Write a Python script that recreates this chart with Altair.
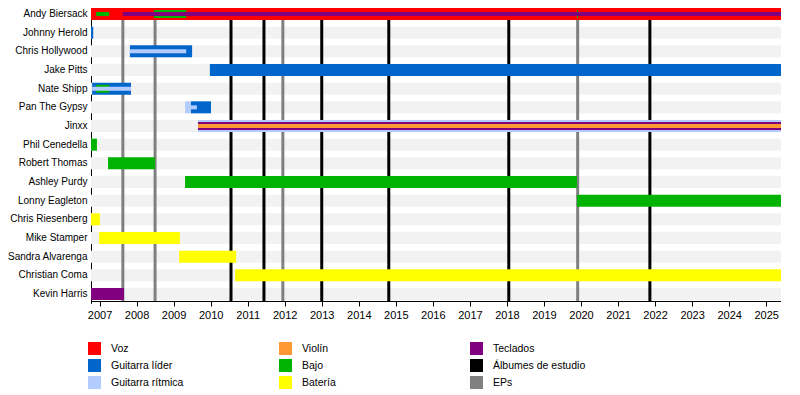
import altair as alt
import pandas as pd

# ---------------- data ----------------
names = ["Andy Biersack", "Johnny Herold", "Chris Hollywood", "Jake Pitts",
         "Nate Shipp", "Pan The Gypsy", "Jinxx", "Phil Cenedella",
         "Robert Thomas", "Ashley Purdy", "Lonny Eagleton", "Chris Riesenberg",
         "Mike Stamper", "Sandra Alvarenga", "Christian Coma", "Kevin Harris"]

period = [2006.77, 2025.40]

bar_member = ["Andy Biersack", "Andy Biersack", "Andy Biersack", "Andy Biersack", "Andy Biersack",
              "Johnny Herold",
              "Chris Hollywood", "Chris Hollywood",
              "Jake Pitts",
              "Nate Shipp", "Nate Shipp", "Nate Shipp",
              "Pan The Gypsy", "Pan The Gypsy", "Pan The Gypsy",
              "Jinxx", "Jinxx", "Jinxx",
              "Phil Cenedella", "Robert Thomas", "Ashley Purdy", "Lonny Eagleton",
              "Chris Riesenberg", "Mike Stamper", "Sandra Alvarenga", "Christian Coma",
              "Kevin Harris"]
bar_role = ["Voz", "Teclados", "Bajo", "Bajo", "Bajo",
            "Guitarra líder",
            "Guitarra líder", "Guitarra rítmica",
            "Guitarra líder",
            "Guitarra líder", "Bajo", "Guitarra rítmica",
            "Guitarra rítmica", "Guitarra líder", "Guitarra rítmica",
            "Guitarra rítmica", "Teclados", "Violín",
            "Bajo", "Bajo", "Bajo", "Bajo",
            "Batería", "Batería", "Batería", "Batería",
            "Teclados"]
bar_layer = ["full", "inner", "inner", "mid", "mid",
             "full",
             "full", "inner",
             "full",
             "full", "mid", "inner",
             "full", "full", "inner",
             "full", "mid", "inner",
             "full", "full", "full", "full",
             "full", "full", "full", "full",
             "full"]
bar_start = [2006.77, 2007.63, 2006.91, 2008.47, 2019.89,
             2006.77,
             2007.82, 2007.82,
             2009.98,
             2006.80, 2006.91, 2006.80,
             2009.31, 2009.47, 2009.47,
             2009.66, 2009.66, 2009.66,
             2006.77, 2007.23, 2009.31, 2019.89,
             2006.77, 2006.99, 2009.15, 2010.66,
             2006.77]
bar_end = [2025.40, 2025.40, 2007.26, 2009.34, 2019.92,
           2006.83,
           2009.50, 2009.34,
           2025.40,
           2007.85, 2007.26, 2007.85,
           2009.47, 2010.01, 2009.63,
           2025.40, 2025.40, 2025.40,
           2006.93, 2008.50, 2019.89, 2025.40,
           2007.01, 2009.17, 2010.69, 2025.40,
           2007.66]

album_years = [2010.55, 2011.44, 2013.00, 2014.81, 2018.05, 2021.86]
ep_years = [2007.63, 2008.50, 2011.95, 2019.91]
year_ticks = list(range(2007, 2026))

legend_labels = ["Voz", "Guitarra líder", "Guitarra rítmica",
                 "Violín", "Bajo", "Batería",
                 "Teclados", "Álbumes de estudio", "EPs"]
legend_colors = ["#ff0000", "#0066cc", "#b3ccff",
                 "#ff9933", "#00b300", "#ffff00",
                 "#800080", "#000000", "#808080"]

# ---------------- frames ----------------
FONT = "Liberation Sans, Arial, sans-serif"

bars = pd.DataFrame({"member": bar_member, "cat": bar_role, "layer": bar_layer,
                     "start": bar_start, "end": bar_end})
bg = pd.DataFrame({"member": names, "start": period[0], "end": period[1]})
albums = pd.DataFrame({"year": album_years})
eps = pd.DataFrame({"year": ep_years})

xscale = alt.Scale(domain=period, nice=False, zero=False)
xaxis = alt.Axis(values=year_ticks, format="d", title=None, grid=False,
                 tickSize=5, tickColor="black", domainColor="black",
                 labelFontSize=11, labelFont=FONT, labelColor="black",
                 labelPadding=3, labelFlush=False)
yscale = alt.Scale(domain=names, range=[-3.33, 295.33], paddingInner=0, paddingOuter=0)
yaxis = alt.Axis(title=None, ticks=False, domain=True, domainColor="black",
                 labelFontSize=10, labelFont=FONT, labelColor="black",
                 labelPadding=4, grid=False)
Y = alt.Y("member:N", scale=yscale, axis=yaxis, sort=names)

color = alt.Color("cat:N",
                  scale=alt.Scale(domain=legend_labels, range=legend_colors),
                  legend=alt.Legend(title=None, orient="none", legendX=-3, legendY=334,
                                    columns=3, gridAlign="all", columnPadding=75,
                                    rowPadding=4, symbolType="square", symbolSize=169,
                                    symbolStrokeWidth=0, symbolOpacity=1,
                                    labelOffset=10, labelFontSize=10.5, labelFont=FONT,
                                    labelColor="black", padding=0))

background = alt.Chart(bg).mark_bar(color="#f2f2f2", size=12).encode(
    x=alt.X("start:Q", scale=xscale, axis=xaxis), x2="end:Q", y=Y)

album_rules = alt.Chart(albums).mark_rule(color="black", strokeWidth=3).encode(
    x=alt.X("year:Q", scale=xscale, axis=xaxis))
ep_rules = alt.Chart(eps).mark_rule(color="#808080", strokeWidth=3).encode(
    x=alt.X("year:Q", scale=xscale, axis=xaxis))


def bar_layer_chart(level, thickness):
    return alt.Chart(bars).transform_filter(
        alt.datum.layer == level
    ).mark_bar(size=thickness).encode(
        x=alt.X("start:Q", scale=xscale, axis=xaxis), x2="end:Q", y=Y, color=color)


chart = alt.layer(background, album_rules, ep_rules,
                  bar_layer_chart("full", 12),
                  bar_layer_chart("mid", 8),
                  bar_layer_chart("inner", 4)).properties(
    width=690, height=293,
    autosize=alt.AutoSizeParams(type="none"),
    padding={"left": 83, "top": 0, "right": 0, "bottom": 88},
).configure_view(stroke=None)

chart.save("out.html", embed_options={"renderer": "svg", "actions": False})
